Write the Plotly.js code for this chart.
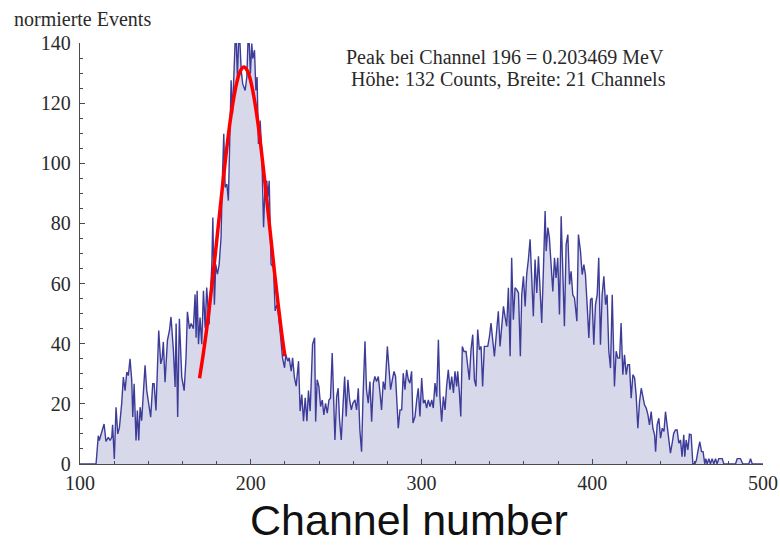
<!DOCTYPE html>
<html>
<head>
<meta charset="utf-8">
<script src="https://cdn.plot.ly/plotly-3.0.1.min.js"></script>
<style>
html,body{margin:0;padding:0;background:#fff;}
#chart{width:780px;height:547px;}
</style>
</head>
<body>
<div id="chart"></div>
<script>
// Spectrum (channel, normalized events), by region
const chA = [100, 109.4, 110.7, 111.3, 112.1, 113.3, 114.1, 115.2, 116.6, 117.6,
  118.6, 119.1, 120.1, 121.1, 122.1, 123.1, 124.4, 125.4, 126.4, 127.4,
  128.3, 129.3, 130.3, 130.9, 131.7, 132.8, 133.6, 134.4, 135.2, 136.1,
  137.1, 138.1, 139.1, 140.3, 141.4, 142.6, 143.4, 144.5, 146.1, 147.3,
  148.1, 148.8, 149.8, 151.2, 152.4, 153.3, 154.7, 155.7, 156.3, 157.2,
  158.2, 159.6, 161.0, 162.1, 162.9, 164.1, 165.1, 166.4];
const evA = [0, 0, 9.4, 7.8, 9.4, 12.2, 13.3, 7.5, 8.9, 7.8,
  8.9, 13, 1.7, 18.9, 10, 12.2, 20, 28.9, 24.4, 30.6,
  29.4, 35, 27.8, 15.6, 26.7, 7.8, 17.8, 7.8, 18.9, 14.4,
  22.2, 32.8, 24.4, 18.9, 15.6, 26.7, 26.7, 17.8, 44.4, 33.3,
  35, 40.6, 27.2, 41.1, 44.4, 48.9, 37.8, 25.6, 46.7, 15.6,
  48.3, 28.9, 24.4, 35.6, 50.6, 45, 46.7, 45];

const chB = [167.4, 168.0, 168.6, 169.4, 170.3, 171.3, 172.3, 173.3, 174.2, 175.6,
  177.2, 177.8, 178.7, 179.5, 180.5, 181.5, 182.6, 183.4, 184.2, 185.0,
  186.0, 186.9, 187.7, 188.5, 189.3, 190.3, 191.2, 192.2, 193.2, 194.4,
  195.3, 196.7, 197.7, 198.7, 199.8, 200.6, 201.2, 202.2, 203.0, 203.7,
  204.5, 205.5, 206.5, 207.5, 208.4, 209.4, 210.0, 210.8, 211.9, 213.3,
  214.3, 215.3, 216.2, 217.2, 218.6, 219.8, 220.5, 221.7, 222.5, 223.7,
  224.5, 225.6, 226.6, 228.0, 228.9, 229.9, 230.9, 231.9, 232.9, 233.8,
  234.8, 236.2, 237.4];
const evB = [56.4, 42, 57.6, 39.8, 48.7, 39.8, 57.6, 45.3, 58.7, 46.4,
  66.4, 82, 53, 66.4, 63.1, 66.4, 75.3, 95.3, 109.8, 92,
  93.1, 87.6, 107.6, 127.6, 116.4, 130.9, 146, 128.7, 146, 130.9,
  126.4, 124.2, 128.7, 146, 129.8, 139.8, 134.8, 137.6, 124.2, 128.7,
  106.4, 114.2, 103.1, 78.7, 93.1, 94.2, 88.7, 94.2, 66.4, 65.3,
  50.9, 53, 49.8, 44.2, 35.3, 32, 36.4, 34.2, 35.3, 30.9,
  35.3, 28.7, 25.9, 34.2, 17.6, 23.1, 14.2, 22, 14.2, 24.4,
  17.6, 39.8, 42];

const chC = [238.0, 238.9, 239.9, 240.9, 241.9, 242.8, 243.8, 244.8, 245.8, 246.7,
  247.7, 248.5, 249.3, 250.3, 251.2, 252.0, 253.0, 254.0, 255.0, 255.9,
  256.9, 257.9, 258.9, 259.8, 261.0, 262.0, 263.0, 263.9, 264.9, 265.7,
  266.9, 267.8, 268.8, 269.8, 270.8, 271.8, 272.7, 273.7, 274.7, 275.7,
  276.6, 277.6, 278.6, 280.0, 280.9, 281.9, 282.9, 283.9, 284.8, 285.8,
  286.4, 287.4, 288.4, 289.3, 290.3, 291.3, 292.3, 293.2, 294.2, 295.0,
  296.2, 297.2, 298.1, 299.1, 300.1, 301.1, 302.0, 303.0, 304.0, 305.0];
const evC = [14.1, 28, 25.8, 19.1, 21.3, 16.3, 20.2, 16.9, 21.3, 21.9,
  36.9, 21.3, 8, 22.4, 25.2, 14.7, 8, 19.1, 29.1, 15.8,
  28, 21.3, 18, 20.2, 21.3, 18, 25.2, 11.3, 4.1, 21.3,
  40.8, 24.7, 20.2, 27.4, 14.1, 26.9, 29.1, 27.4, 29.1, 23.6,
  18, 27.4, 24.7, 39.1, 31.3, 24.7, 28, 30.8, 29.1, 17.4,
  11.9, 18, 18, 30.2, 24.7, 31.3, 28, 26.9, 30.8, 13.6,
  15.8, 21.3, 25.2, 15.8, 28.6, 20.2, 21.3, 18.6, 21.3, 19.1];

const chD = [306.0, 306.9, 307.9, 308.9, 309.9, 310.8, 311.8, 312.8, 313.8, 314.7,
  315.7, 316.7, 317.7, 318.7, 319.6, 320.6, 321.2, 322.2, 323.0, 323.9,
  324.9, 326.1, 327.1, 328.0, 329.0, 330.0, 331.0, 331.9, 332.9, 333.9,
  334.9, 335.8, 336.8, 337.8, 338.8, 339.8, 340.7, 341.7, 342.7, 343.7,
  345.0, 346.0, 347.0, 348.0, 348.9, 349.9, 350.9, 351.9, 352.8, 353.8,
  354.8, 355.8, 356.8, 357.9, 358.7, 359.7, 360.7, 361.6, 362.6, 363.6,
  364.6, 365.5, 366.5, 367.5, 368.5, 369.5, 370.4, 371.4];
const evD = [21.3, 18.6, 26.9, 22.4, 41.3, 22.4, 14.1, 22.4, 18, 25.8,
  31.3, 24.7, 29.1, 23.6, 30.8, 25.8, 30.8, 23.6, 15.8, 39.1,
  37.4, 37.4, 31.3, 28, 38, 43, 28, 25.8, 44.7, 38,
  39.1, 25.8, 39.1, 39.1, 39.1, 42.4, 46.9, 41.3, 35.8, 42.4,
  50.8, 39.1, 45.2, 52.4, 49.1, 45.8, 58.6, 35.8, 68.6, 48,
  58.6, 58, 56.9, 35.8, 56.3, 62.4, 52.4, 63, 68, 74.7,
  61.3, 49.1, 68, 56.9, 69.1, 56.9, 46.9, 64.7];

const chE = [372.4, 373.0, 374.0, 374.9, 375.9, 376.9, 377.9, 378.8, 379.8, 380.8,
  381.8, 382.7, 383.7, 384.7, 385.7, 386.7, 387.6, 388.6, 389.6, 391.0,
  391.9, 393.1, 394.1, 395.1, 396.0, 397.0, 398.0, 399.0, 399.9, 400.9,
  401.9, 402.9, 403.8, 404.8, 405.8, 406.8, 407.8, 408.7, 409.7, 410.7,
  411.7, 413.0, 414.0, 415.0, 416.0, 416.9, 417.9, 418.9, 419.9, 420.8,
  421.8, 422.8, 423.8, 424.8, 425.7, 426.7, 427.7, 428.7, 429.6, 430.6,
  431.6, 432.6, 433.5, 434.5, 435.5, 436.5, 437.1, 438.0, 439.0, 440.0,
  441.0, 442.0];
const evE = [84.1, 70.8, 78.6, 75.2, 67.4, 57.4, 68.6, 61.9, 68.6, 49.7,
  82.4, 61.9, 45.8, 73, 76.3, 59.7, 64.1, 56.3, 55.2, 47.5,
  76.3, 70.8, 63, 66.3, 63, 53, 41.9, 54.7, 55.2, 39.7,
  53, 56.3, 68.6, 39.7, 56.3, 62.4, 53, 56.3, 37.5, 31.9,
  56.3, 25.8, 37.5, 35.2, 35.2, 46.9, 29.7, 36.3, 29.7, 33,
  33, 21.9, 29.7, 28.6, 23, 11.9, 20.8, 25.2, 23, 19.7,
  18.6, 16.4, 13, 17.4, 11.9, 9.7, 4.1, 13, 15.2, 8.6,
  11.9, 10.8];

const chF = [442.9, 443.8, 444.8, 445.8, 446.8, 447.7, 448.7, 449.7, 450.7, 451.7,
  452.6, 453.6, 454.2, 455.0, 456.0, 456.9, 457.9, 458.9, 460.1, 461.0,
  462.0, 463.0, 464.0, 464.9, 465.9, 466.5, 467.3, 468.3, 469.2, 470.2,
  471.2, 472.2, 473.1, 474.1, 476.1, 477.1, 483.9, 484.9, 486.8, 488.2,
  491.7, 492.7, 493.7, 500];
const evF = [17.4, 12.4, 8, 3.6, 6.9, 10.2, 11.3, 11.3, 6.9, 8,
  2.4, 9.7, 2.4, 8, 4.7, 9.9, 9.7, 0.2, 0, 1.3,
  4.7, 7.4, 4.1, 4.1, 0, 1.8, 0, 1.8, 0, 1.8,
  0, 1.8, 0, 1.8, 1.8, 0, 0, 1.8, 1.8, 0,
  0, 1.8, 0, 0];

// Red peak fit curve
const fitChannel = [170, 172, 174, 176, 178, 180, 182, 184, 186, 188, 190, 192, 194, 196,
  198, 200, 202, 204, 206, 208, 210, 212, 214, 216, 218, 220];
const fitCounts = [28.5, 35.8, 44.0, 53.3, 63.3, 73.9, 84.6, 95.2, 105.2, 114.2, 121.6, 127.3, 130.8, 132,
  130.8, 127.3, 121.6, 114.2, 105.2, 95.2, 84.6, 73.9, 63.3, 53.3, 44.0, 35.8];

// Axis ticks
const xTicks = [100, 200, 300, 400, 500];
const yTicks = [0, 20, 40, 60, 80, 100, 120, 140];

// Texts
const yLabel = 'normierte Events';
const xLabel = 'Channel number';
const infoLine1 = 'Peak bei Channel 196 = 0.203469 MeV';
const infoLine2 = 'Höhe: 132 Counts, Breite: 21 Channels';

const channel = [].concat(chA, chB, chC, chD, chE, chF);
const events = [].concat(evA, evB, evC, evD, evE, evF);

const serif = 'Liberation Serif, Times New Roman, serif';
const axisColor = '#4a4a4a';
const textColor = '#2a2a2a';

const traces = [
  {
    x: channel, y: events, type: 'scatter', mode: 'lines',
    line: {color: '#3d3d99', width: 1.4},
    fill: 'tozeroy', fillcolor: 'rgba(61,61,153,0.2)',
    hoverinfo: 'skip'
  },
  {
    x: fitChannel, y: fitCounts, type: 'scatter', mode: 'lines',
    line: {color: '#ff0000', width: 3.5, shape: 'spline'},
    hoverinfo: 'skip'
  }
];

const layout = {
  width: 780, height: 547,
  margin: {l: 80, r: 17, t: 43, b: 83},
  paper_bgcolor: '#ffffff', plot_bgcolor: '#ffffff',
  showlegend: false,
  font: {family: serif, size: 20, color: textColor},
  xaxis: {
    range: [100, 500], tickvals: xTicks, ticktext: xTicks.map(String),
    showgrid: false, zeroline: false,
    showline: true, linecolor: axisColor, linewidth: 1.3,
    ticks: 'inside', ticklen: 5, tickwidth: 1.2, tickcolor: axisColor,
    minor: {dtick: 20, tick0: 100, ticks: 'inside', ticklen: 3, tickwidth: 1, tickcolor: axisColor, showgrid: false},
    tickfont: {family: serif, size: 20, color: textColor},
    ticklabelstandoff: 1,
    fixedrange: true
  },
  yaxis: {
    range: [0, 140], tickvals: yTicks, ticktext: yTicks.map(String),
    showgrid: false, zeroline: false,
    showline: true, linecolor: axisColor, linewidth: 1.3,
    ticks: 'inside', ticklen: 5, tickwidth: 1.2, tickcolor: axisColor,
    minor: {dtick: 5, tick0: 0, ticks: 'inside', ticklen: 3, tickwidth: 1, tickcolor: axisColor, showgrid: false},
    tickfont: {family: serif, size: 20, color: textColor},
    ticklabelstandoff: 4,
    fixedrange: true
  },
  annotations: [
    {text: yLabel, xref: 'paper', yref: 'paper', x: -0.099, y: 1.056,
     xanchor: 'left', yanchor: 'middle', showarrow: false,
     font: {family: serif, size: 20, color: textColor}},
    {text: infoLine1, xref: 'paper', yref: 'paper', x: 0.6223, y: 0.9667,
     xanchor: 'center', yanchor: 'middle', showarrow: false,
     font: {family: serif, size: 20, color: textColor}},
    {text: infoLine2, xref: 'paper', yref: 'paper', x: 0.627, y: 0.9145,
     xanchor: 'center', yanchor: 'middle', showarrow: false,
     font: {family: serif, size: 20, color: textColor}},
    {text: xLabel, xref: 'paper', yref: 'paper', x: 0.481, y: -0.1342,
     xanchor: 'center', yanchor: 'middle', showarrow: false, borderpad: 0,
     font: {family: 'Liberation Sans, Arial, sans-serif', size: 43, color: '#111'}}
  ]
};

Plotly.newPlot('chart', traces, layout, {staticPlot: true, displayModeBar: false});
</script>
</body>
</html>
